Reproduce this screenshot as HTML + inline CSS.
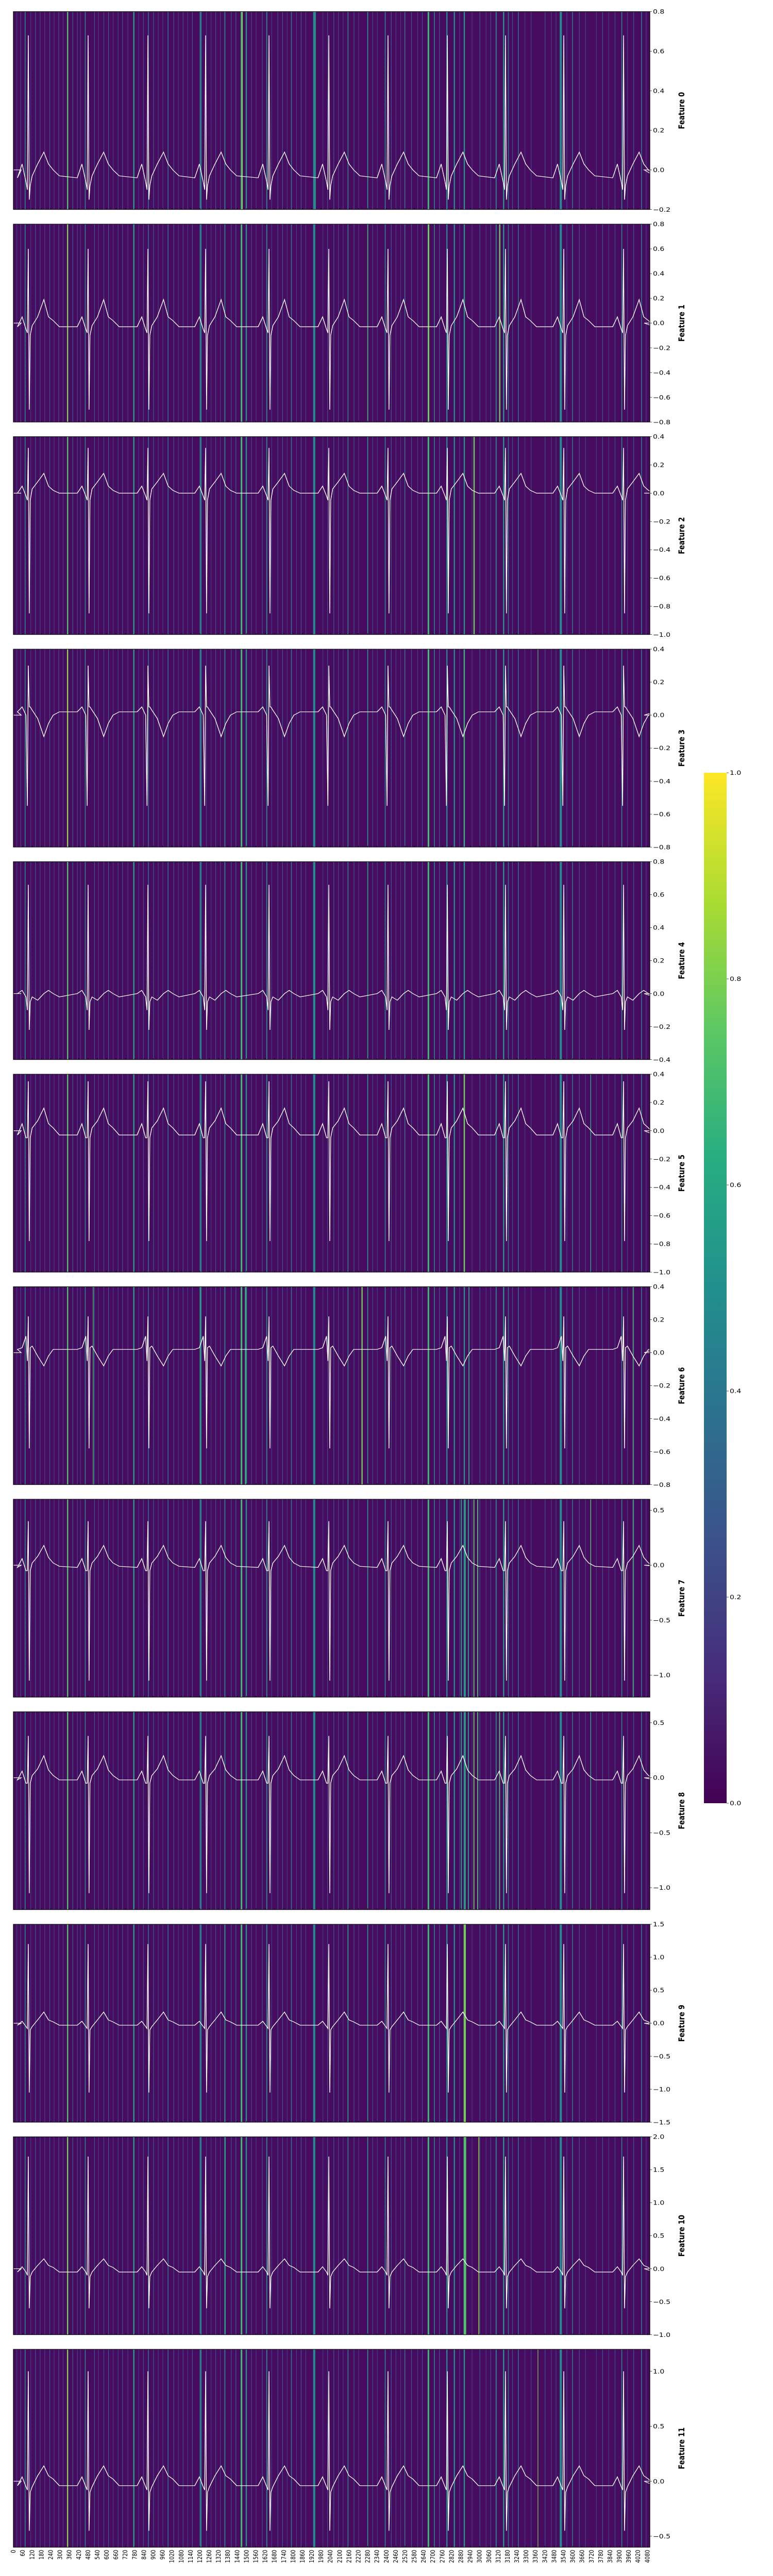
<!DOCTYPE html>
<html><head><meta charset="utf-8">
<meta name="viewport" content="width=1500">
<style>
html,body{margin:0;padding:0;background:#fff;width:100%;height:100%;overflow:hidden;}
svg{display:block;position:absolute;left:0;top:0;width:100vw;height:100vh;font-family:"DejaVu Sans","Liberation Sans",sans-serif;}
</style></head>
<body>
<svg id="chart" viewBox="0 0 1500 6000" preserveAspectRatio="none" xmlns="http://www.w3.org/2000/svg">
<defs>
<linearGradient id="viridis" x1="0" y1="1" x2="0" y2="0">
<stop offset="0" stop-color="#440154"/><stop offset="0.125" stop-color="#472c7a"/><stop offset="0.25" stop-color="#3b518b"/><stop offset="0.375" stop-color="#2c718e"/><stop offset="0.5" stop-color="#21908d"/><stop offset="0.625" stop-color="#27ad81"/><stop offset="0.75" stop-color="#5cc863"/><stop offset="0.875" stop-color="#aadc32"/><stop offset="1" stop-color="#fde725"/>
</linearGradient>
</defs>
<g id="panels"></g>
<g id="xaxis"></g>
<g id="cbar">
<rect x="1366" y="1800" width="44" height="2400" fill="url(#viridis)"/>
</g>
</svg>
<script>
// ---- data ----
const nSamples = 4096;
const panelNames = ["Feature 0","Feature 1","Feature 2","Feature 3","Feature 4","Feature 5","Feature 6","Feature 7","Feature 8","Feature 9","Feature 10","Feature 11"];
const yMin = [-0.2,-0.8,-1.0,-0.8,-0.4,-1.0,-0.8,-1.2,-1.2,-1.5,-1.0,-0.6];
const yMax = [0.8,0.8,0.4,0.4,0.8,0.4,0.4,0.6,0.6,1.5,2.0,1.2];
const yStep = [0.2,0.2,0.2,0.2,0.2,0.2,0.2,0.5,0.5,0.5,0.5,0.5];
const beatPositions = [96,481,866,1237,1645,2030,2411,2793,3167,3542,3927];
const beatOffsets = [-70,-40,-15,-6,0,6,12,25,60,100,130,160,200];
const beatTemplates = [
 [-0.04,0.03,-0.06,-0.10,0.68,-0.15,-0.08,-0.03,0.03,0.09,0.03,0.0,-0.03],
 [-0.03,0.05,-0.05,-0.08,0.60,-0.70,-0.10,-0.02,0.05,0.19,0.05,0.02,-0.03],
 [0.0,0.05,-0.02,-0.05,0.32,-0.85,-0.05,0.03,0.08,0.14,0.05,0.02,0.0],
 [0.02,0.05,0.0,-0.55,0.30,0.05,0.05,0.03,-0.02,-0.13,-0.05,0.0,0.02],
 [0.0,0.02,-0.02,-0.10,0.66,-0.22,-0.05,-0.02,-0.04,0.0,0.02,0.0,-0.02],
 [-0.03,0.05,-0.05,-0.05,0.35,-0.78,-0.05,0.02,0.07,0.16,0.05,0.02,-0.03],
 [0.02,0.03,0.10,-0.05,0.22,-0.58,0.03,0.04,-0.02,-0.08,-0.02,0.02,0.02],
 [-0.02,0.06,-0.05,-0.05,0.40,-1.05,-0.05,0.02,0.08,0.18,0.07,0.02,-0.01],
 [-0.02,0.06,-0.05,-0.05,0.38,-1.05,-0.05,0.02,0.08,0.20,0.07,0.02,-0.02],
 [-0.03,0.03,-0.05,-0.08,1.20,-1.05,-0.10,-0.05,0.05,0.17,0.05,0.02,-0.03],
 [-0.05,0.03,-0.05,-0.10,1.70,-0.60,-0.12,-0.05,0.05,0.15,0.05,0.02,-0.05],
 [-0.04,0.04,-0.05,-0.08,1.00,-0.45,-0.10,-0.05,0.05,0.14,0.05,0.02,-0.04]
];
// common bright stripes: sample start, width (samples), attribution value
const stripeStart = [73,345,460,771,866,993,1199,1358,1463,1495,1628,1787,1929,2151,2278,2390,2517,2666,2707,2786,2834,2898,3104,3151,3183,3247,3516,3596,3913,4040];
const stripeWidth = [5,8,5,8,5,5,12,6,10,8,6,5,14,5,5,6,5,10,5,8,8,8,6,8,5,5,14,5,5,5];
const stripeValue = [0.5,0.72,0.48,0.58,0.4,0.4,0.42,0.45,0.68,0.52,0.5,0.42,0.48,0.48,0.58,0.42,0.42,0.68,0.48,0.48,0.48,0.52,0.48,0.52,0.42,0.4,0.48,0.42,0.48,0.42];
// per-panel extra stripes [sample, width, value]
const extraStripes = [
 [[1470,6,0.8],[1940,6,0.55]],
 [[345,6,0.82],[2670,6,0.82],[3126,8,0.78],[2278,5,0.68]],
 [[2961,8,0.78]],
 [[345,5,0.88],[2670,6,0.72],[2898,6,0.68],[3374,4,0.7]],
 [[1935,6,0.5],[2278,5,0.58]],
 [[2898,8,0.78],[3713,5,0.6]],
 [[511,5,0.68],[1199,6,0.62],[1463,6,0.68],[1490,6,0.68],[2240,8,0.78],[2929,6,0.62],[3986,4,0.72]],
 [[2880,6,0.6],[2905,6,0.62],[2925,6,0.6],[2961,6,0.75],[2985,6,0.72],[3713,5,0.72],[3986,5,0.68]],
 [[2880,6,0.6],[2905,6,0.62],[2925,6,0.6],[2961,6,0.78],[2985,6,0.72],[3126,6,0.72],[3713,5,0.6]],
 [[2898,14,0.78],[1358,6,0.55],[2151,5,0.6]],
 [[345,6,0.8],[1358,8,0.6],[2898,16,0.72],[2993,5,0.85]],
 [[345,5,0.85],[3374,4,0.8],[1463,5,0.68]]
];
// faint attribution lines shared by all panels
const faintPos = [20,45,110,140,170,200,232,260,290,318,380,410,430,520,545,580,610,640,672,700,735,805,835,900,930,960,1030,1060,1090,1120,1150,1240,1270,1300,1330,1400,1430,1530,1560,1600,1660,1700,1730,1760,1820,1850,1880,1990,2020,2060,2090,2120,2190,2220,2310,2340,2430,2460,2490,2560,2600,2630,2740,2870,2950,3000,3040,3070,3210,3290,3330,3420,3460,3490,3560,3640,3680,3750,3790,3830,3870,3950,3990,4070];
const faintValue = [0.2,0.25,0.18,0.3,0.22,0.2,0.28,0.18,0.25,0.2,0.3,0.22,0.18,0.28,0.2,0.25,0.3,0.18,0.22,0.28,0.2,0.18,0.25,0.3,0.22,0.2,0.28,0.18,0.25,0.2,0.3,0.22,0.18,0.28,0.2,0.25,0.3,0.22,0.18,0.28,0.2,0.25,0.3,0.18,0.22,0.28,0.2,0.18,0.25,0.3,0.22,0.2,0.28,0.18,0.25,0.2,0.3,0.22,0.18,0.28,0.2,0.25,0.3,0.22,0.18,0.28,0.2,0.25,0.3,0.18,0.22,0.28,0.2,0.18,0.25,0.3,0.22,0.2,0.28,0.18,0.25,0.2,0.3,0.22];
const xTickStep = 60;
const cbarTicks = [0.0,0.2,0.4,0.6,0.8,1.0];

// ---- layout ----
const NS = "http://www.w3.org/2000/svg";
const L = 26, W = 1235, T0 = 27, H = 461, P = 495;
const vir = ["#440154","#472c7a","#3b518b","#2c718e","#21908d","#27ad81","#5cc863","#aadc32","#fde725"];
function hex(c){return [parseInt(c.slice(1,3),16),parseInt(c.slice(3,5),16),parseInt(c.slice(5,7),16)];}
function viridis(v){v=Math.max(0,Math.min(1,v));const f=v*8,i=Math.min(7,Math.floor(f)),t=f-i;const a=hex(vir[i]),b=hex(vir[i+1]);return "rgb("+a.map((x,k)=>Math.round(x+(b[k]-x)*t)).join(",")+")";}
function xs(s){return L + s/nSamples*W;}
function mk(tag,attrs,parent){const e=document.createElementNS(NS,tag);for(const k in attrs)e.setAttribute(k,attrs[k]);parent.appendChild(e);return e;}
function fmt(v){const s=Math.abs(v).toFixed(1);return (v< -1e-9?"\u2212":"")+s;}

const panels = document.getElementById("panels");
for(let p=0;p<12;p++){
  const top = T0 + p*P;
  const ys = v => top + (yMax[p]-v)/(yMax[p]-yMin[p])*H;
  const g = mk("g",{},panels);
  
  
  const bg = mk("rect",{x:L,y:top,width:W,height:H,fill:"#470c5f"},g);
  
  
  for(let i=0;i<faintPos.length;i++){
    const r = mk("rect",{x:xs(faintPos[i]),y:top,width:1.2,height:H,fill:viridis(faintValue[i])},g);
    
    
  }
  for(let i=0;i<stripeStart.length;i++){
    const r = mk("rect",{x:xs(stripeStart[i]),y:top,width:xs(stripeStart[i]+stripeWidth[i])-xs(stripeStart[i]),height:H,fill:viridis(stripeValue[i])},g);
    
    
  }
  for(const e of extraStripes[p]){
    const r = mk("rect",{x:xs(e[0]),y:top,width:xs(e[0]+e[1])-xs(e[0]),height:H,fill:viridis(e[2])},g);
    
    
  }
  const pts = [[0,0],[50,0]];
  for(const b of beatPositions){
    for(let k=0;k<beatOffsets.length;k++) pts.push([b+beatOffsets[k], beatTemplates[p][k]]);
  }
  pts.push([4060,0],[4095,0]);
  const d = pts.map((q,i)=>(i?"L":"M")+xs(q[0]).toFixed(1)+","+ys(q[1]).toFixed(1)).join("");
  const line = mk("path",{d:d,fill:"none",stroke:"#fff","stroke-width":1.4},g);
  
  
  const fr = mk("rect",{x:L,y:top,width:W,height:H,fill:"none",stroke:"#000","stroke-width":1.2},g);
  
  
  for(let s=0;s<nSamples;s+=xTickStep){
    const t = mk("line",{x1:xs(s+0.5),x2:xs(s+0.5),y1:top+H,y2:top+H-3,stroke:"#000","stroke-width":0.8},g);
    
    
  }
  const n0 = Math.ceil(yMin[p]/yStep[p]-1e-6), n1 = Math.floor(yMax[p]/yStep[p]+1e-6);
  for(let n=n0;n<=n1;n++){
    const v = n*yStep[p], y = ys(v);
    const t = mk("line",{x1:L+W,x2:L+W+4,y1:y,y2:y,stroke:"#000","stroke-width":0.8},g);
    
    
    const tx = mk("text",{x:L+W+6,y:y+5,"font-size":14,fill:"#000"},g);
    
    
    tx.textContent = fmt(v);
  }
  const lab = mk("text",{x:0,y:0,"font-size":16,"font-weight":"bold","text-anchor":"middle",transform:"translate(1328,"+(top+H/2)+") rotate(-90)"},g);
  
  
  lab.textContent = panelNames[p];
}
const xa = document.getElementById("xaxis");
const bottom = T0 + 11*P + H;
for(let s=0;s<nSamples;s+=xTickStep){
  const t = mk("text",{x:0,y:0,"font-size":12,"text-anchor":"end",transform:"translate("+(xs(s+0.5)+4).toFixed(1)+","+(bottom+6)+") rotate(-90)"},xa);
  
  
  t.textContent = String(s);
}
const cb = document.getElementById("cbar");
for(const v of cbarTicks){
  const y = 4200 - v*2400;
  const t = mk("line",{x1:1410,x2:1414,y1:y,y2:y,stroke:"#000","stroke-width":0.8},cb);
  
  
  const tx = mk("text",{x:1416,y:y+5,"font-size":14},cb);
  
  
  tx.textContent = v.toFixed(1);
}
</script>
</body></html>
